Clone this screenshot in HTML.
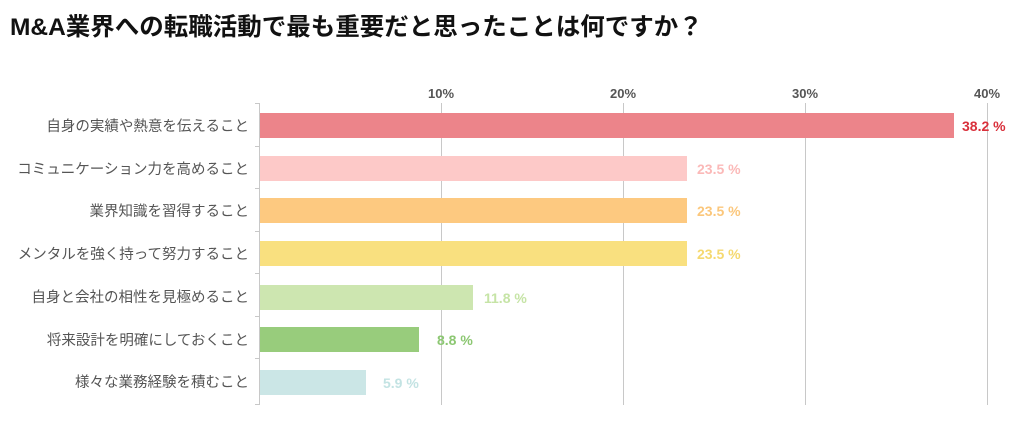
<!DOCTYPE html>
<html><head><meta charset="utf-8"><style>
body{margin:0;background:#fff;width:1024px;height:430px;overflow:hidden}
svg{display:block}
text{font-family:"Liberation Sans","Noto Sans CJK JP",sans-serif}
</style></head><body>
<svg width="1024" height="430" viewBox="0 0 1024 430">
<text x="10" y="35" font-size="24.5" font-weight="bold" fill="#111">M&amp;A業界への転職活動で最も重要だと思ったことは何ですか？</text>
<g stroke="#c8c8c8" stroke-width="1">
<line x1="441.5" y1="103" x2="441.5" y2="405"/>
<line x1="623.5" y1="103" x2="623.5" y2="405"/>
<line x1="805.5" y1="103" x2="805.5" y2="405"/>
<line x1="987.5" y1="103" x2="987.5" y2="405"/>
<line x1="259.5" y1="103" x2="259.5" y2="405"/>
<line x1="255" y1="103.5" x2="259" y2="103.5"/>
<line x1="255" y1="146.5" x2="259" y2="146.5"/>
<line x1="255" y1="188.5" x2="259" y2="188.5"/>
<line x1="255" y1="231.5" x2="259" y2="231.5"/>
<line x1="255" y1="273.5" x2="259" y2="273.5"/>
<line x1="255" y1="316.5" x2="259" y2="316.5"/>
<line x1="255" y1="358.5" x2="259" y2="358.5"/>
<line x1="255" y1="404.5" x2="259" y2="404.5"/>
</g>
<g font-size="13" font-weight="bold" fill="#555" text-anchor="middle">
<text x="441" y="98">10%</text><text x="623" y="98">20%</text><text x="805" y="98">30%</text><text x="987" y="98">40%</text>
</g>
<g>
<rect x="260" y="113" width="694" height="25" fill="#ec848a"/>
<rect x="260" y="156" width="427" height="25" fill="#fdc9c8"/>
<rect x="260" y="198" width="427" height="25" fill="#fdc980"/>
<rect x="260" y="241" width="427" height="25" fill="#f9e07f"/>
<rect x="260" y="285" width="213" height="25" fill="#cde6b0"/>
<rect x="260" y="327" width="159" height="25" fill="#98cc7c"/>
<rect x="260" y="370" width="106" height="25" fill="#cbe6e6"/>
</g>
<g font-size="14" font-weight="bold">
<text x="962" y="131" fill="#d9303b">38.2 %</text>
<text x="697" y="174" fill="#fbb9b8">23.5 %</text>
<text x="697" y="216" fill="#fbc77c">23.5 %</text>
<text x="697" y="259" fill="#f5d970">23.5 %</text>
<text x="484" y="303" fill="#c6e4a6">11.8 %</text>
<text x="437" y="345" fill="#8cc772">8.8 %</text>
<text x="383" y="388" fill="#c3e3e3">5.9 %</text>
</g>
<g font-size="14.5" fill="#555" text-anchor="end">
<text x="249" y="131">自身の実績や熱意を伝えること</text>
<text x="249" y="174">コミュニケーション力を高めること</text>
<text x="249" y="216">業界知識を習得すること</text>
<text x="249" y="259">メンタルを強く持って努力すること</text>
<text x="249" y="302">自身と会社の相性を見極めること</text>
<text x="249" y="345">将来設計を明確にしておくこと</text>
<text x="249" y="387">様々な業務経験を積むこと</text>
</g>
</svg>
</body></html>
